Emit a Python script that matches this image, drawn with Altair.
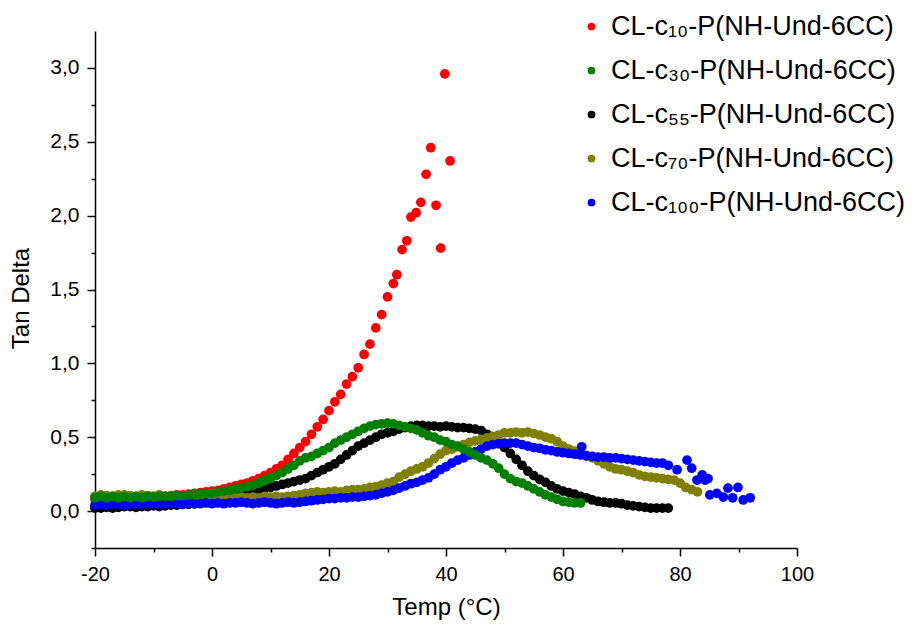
import altair as alt
import pandas as pd

# ---------------- data ----------------
SERIES = [
    "CL-c₁₀-P(NH-Und-6CC)",
    "CL-c₃₀-P(NH-Und-6CC)",
    "CL-c₅₅-P(NH-Und-6CC)",
    "CL-c₇₀-P(NH-Und-6CC)",
    "CL-c₁₀₀-P(NH-Und-6CC)",
]
COLORS = ["#ff0000", "#008000", "#000000", "#808000", "#0000ff"]

# CL-c10 : dense part (1 °C grid from -20 to 31) + sparse points above
c10_temp = [-20, -19, -18, -17, -16, -15, -14, -13, -12, -11, -10, -9, -8, -7, -6, -5, -4, -3, -2, -1,
            0, 1, 2, 3, 4, 5, 6, 7, 8, 9, 10, 11, 12, 13, 14, 15, 16, 17, 18, 19, 20, 21, 22, 23, 24,
            25, 26, 27, 28, 29, 30, 31,
            31.6, 32.5, 33.3, 34.0, 34.9, 35.7, 36.6, 37.4, 38.3, 39.1, 39.8, 40.7]
c10_tan = [0.08, 0.08, 0.08, 0.08, 0.085, 0.09, 0.09, 0.09, 0.095, 0.095, 0.10, 0.10, 0.10, 0.105, 0.11,
           0.11, 0.115, 0.12, 0.125, 0.13, 0.135, 0.14, 0.15, 0.16, 0.17, 0.18, 0.19, 0.205, 0.22, 0.24,
           0.26, 0.285, 0.31, 0.35, 0.39, 0.43, 0.47, 0.52, 0.57, 0.62, 0.68, 0.74, 0.79, 0.86, 0.91,
           0.97, 1.06, 1.13, 1.24, 1.33, 1.45, 1.54,
           1.60, 1.77, 1.83, 1.99, 2.02, 2.09, 2.28, 2.46, 2.07, 1.78, 2.96, 2.37]

# CL-c30 : -20 ... 63 °C
c30_start = -20
c30_tan = [0.09, 0.10, 0.09, 0.10, 0.09, 0.10, 0.09, 0.10, 0.09, 0.10, 0.095, 0.10, 0.10, 0.10, 0.105,
           0.105, 0.11, 0.11, 0.115, 0.12, 0.12, 0.13, 0.135, 0.14, 0.15, 0.155, 0.165, 0.175, 0.19,
           0.205, 0.22, 0.24, 0.26, 0.285, 0.31, 0.34, 0.36, 0.37, 0.39, 0.41, 0.43, 0.46, 0.48, 0.50,
           0.52, 0.54, 0.56, 0.575, 0.585, 0.59, 0.595, 0.59, 0.58, 0.57, 0.56, 0.55, 0.53, 0.51, 0.50,
           0.48, 0.47, 0.45, 0.44, 0.42, 0.40, 0.38, 0.36, 0.345, 0.32, 0.29, 0.25, 0.22, 0.20, 0.19,
           0.17, 0.15, 0.13, 0.11, 0.095, 0.08, 0.065, 0.06, 0.055, 0.055]

# CL-c55 : -20 ... 78 °C
c55_start = -20
c55_tan = [0.02, 0.02, 0.025, 0.02, 0.025, 0.03, 0.03, 0.025, 0.03, 0.03, 0.035, 0.03, 0.035, 0.04,
           0.04, 0.045, 0.045, 0.05, 0.055, 0.06, 0.065, 0.075, 0.085, 0.09, 0.10, 0.11, 0.12, 0.13,
           0.14, 0.15, 0.16, 0.17, 0.18, 0.19, 0.20, 0.21, 0.22, 0.24, 0.26, 0.28, 0.30, 0.32, 0.35,
           0.38, 0.41, 0.44, 0.46, 0.48, 0.50, 0.52, 0.53, 0.54, 0.555, 0.565, 0.575, 0.58, 0.58, 0.575,
           0.575, 0.57, 0.575, 0.57, 0.565, 0.565, 0.56, 0.555, 0.545, 0.52, 0.49, 0.46, 0.43, 0.39,
           0.35, 0.31, 0.27, 0.24, 0.215, 0.195, 0.17, 0.15, 0.135, 0.125, 0.115, 0.10, 0.09, 0.075,
           0.065, 0.06, 0.055, 0.055, 0.05, 0.04, 0.035, 0.03, 0.025, 0.02, 0.02, 0.02, 0.02]

# CL-c70 : -20 ... 83 °C
c70_start = -20
c70_tan = [0.10, 0.11, 0.105, 0.10, 0.11, 0.11, 0.105, 0.10, 0.11, 0.105, 0.10, 0.11, 0.10, 0.105,
           0.10, 0.10, 0.10, 0.095, 0.10, 0.095, 0.10, 0.095, 0.09, 0.095, 0.09, 0.095, 0.09, 0.095,
           0.09, 0.10, 0.095, 0.10, 0.095, 0.10, 0.105, 0.11, 0.12, 0.125, 0.13, 0.125, 0.13, 0.135,
           0.13, 0.14, 0.145, 0.145, 0.15, 0.16, 0.165, 0.175, 0.19, 0.20, 0.23, 0.25, 0.27, 0.285,
           0.30, 0.325, 0.355, 0.385, 0.41, 0.42, 0.435, 0.45, 0.465, 0.475, 0.485, 0.495, 0.505,
           0.515, 0.53, 0.53, 0.535, 0.53, 0.535, 0.525, 0.515, 0.50, 0.49, 0.47, 0.44, 0.42, 0.405,
           0.39, 0.37, 0.36, 0.34, 0.32, 0.30, 0.285, 0.28, 0.27, 0.26, 0.245, 0.235, 0.23, 0.225,
           0.22, 0.215, 0.21, 0.19, 0.16, 0.145, 0.13]

# CL-c100 : dense part -20 ... 78 °C + scattered points
c100_start = -20
c100_tan = [0.04, 0.045, 0.04, 0.05, 0.045, 0.04, 0.045, 0.05, 0.045, 0.05, 0.05, 0.045, 0.05, 0.055,
            0.05, 0.045, 0.055, 0.05, 0.05, 0.055, 0.05, 0.055, 0.05, 0.055, 0.055, 0.06, 0.055, 0.05,
            0.055, 0.06, 0.055, 0.05, 0.055, 0.06, 0.055, 0.06, 0.065, 0.07, 0.075, 0.08, 0.085, 0.085,
            0.09, 0.09, 0.095, 0.095, 0.10, 0.105, 0.11, 0.12, 0.13, 0.14, 0.155, 0.17, 0.185, 0.195,
            0.21, 0.225, 0.25, 0.28, 0.30, 0.325, 0.345, 0.36, 0.38, 0.40, 0.42, 0.44, 0.45, 0.455,
            0.46, 0.46, 0.46, 0.45, 0.44, 0.43, 0.425, 0.415, 0.41, 0.40, 0.395, 0.39, 0.385, 0.38,
            0.375, 0.37, 0.365, 0.365, 0.36, 0.36, 0.355, 0.35, 0.345, 0.34, 0.335, 0.33, 0.325, 0.325,
            0.31]
c100_extra_temp = [63.2, 79.5, 81.2, 82.0, 82.9, 83.8, 84.3, 84.8, 85.1, 86.3, 87.4, 88.2, 89.0, 89.9, 90.8, 92.0]
c100_extra_tan = [0.435, 0.28, 0.345, 0.29, 0.21, 0.245, 0.21, 0.22, 0.11, 0.12, 0.095, 0.155, 0.09, 0.16, 0.075, 0.09]

X_TICKS = [-20, -10, 0, 10, 20, 30, 40, 50, 60, 70, 80, 90, 100]
Y_TICKS = [-0.25, 0, 0.25, 0.5, 0.75, 1.0, 1.25, 1.5, 1.75, 2.0, 2.25, 2.5, 2.75, 3.0]

# ---------------- table ----------------
rows = []
def add(name, temps, vals):
    for t, v in zip(temps, vals):
        rows.append({"series": name, "T": t, "v": v})

def grid(start, vals):
    return [start + i for i in range(len(vals))]

# draw order (later = on top): c10, c55, c70, c100, c30
add(SERIES[0], c10_temp, c10_tan)
add(SERIES[2], grid(c55_start, c55_tan), c55_tan)
add(SERIES[3], grid(c70_start, c70_tan), c70_tan)
add(SERIES[4], grid(c100_start, c100_tan) + c100_extra_temp, c100_tan + c100_extra_tan)
add(SERIES[1], grid(c30_start, c30_tan), c30_tan)
df = pd.DataFrame(rows)
df["ord"] = range(len(df))

FONT = "Liberation Sans"
Y_MAJOR = "abs(datum.value * 2 - round(datum.value * 2)) < 1e-6"

common = dict(
    domainColor="black",
    domainWidth=1.5,
    tickColor="black",
    tickWidth=1.5,
    labelFont=FONT,
    labelColor="black",
    titleFont=FONT,
    titleFontSize=24,
    titleFontWeight="normal",
    titleColor="black",
    labelFlush=False,
    grid=False,
)

x_axis = alt.Axis(
    values=X_TICKS,
    title="Temp (°C)",
    labelExpr="datum.value % 20 === 0 ? '' + datum.value : ''",
    tickSize={"condition": {"test": "datum.value % 20 === 0", "value": 8}, "value": 4},
    labelFontSize=20,
    labelPadding=8,
    titlePadding=11,
    **common,
)
y_axis = alt.Axis(
    values=Y_TICKS,
    title="Tan Delta",
    labelExpr=Y_MAJOR + " ? replace(format(datum.value, '.1f'), '.', ',') : ''",
    tickSize={"condition": {"test": Y_MAJOR, "value": 8}, "value": 4},
    labelFontSize=21,
    labelPadding=8,
    titlePadding=16,
    titleY=267,
    **common,
)

chart = (
    alt.Chart(df)
    .mark_circle(size=95, opacity=1)
    .encode(
        x=alt.X("T:Q", scale=alt.Scale(domain=[-20, 100], nice=False, zero=False), axis=x_axis),
        y=alt.Y("v:Q", scale=alt.Scale(domain=[-0.25, 3.25], nice=False, zero=False), axis=y_axis),
        color=alt.Color(
            "series:N",
            scale=alt.Scale(domain=SERIES, range=COLORS),
            legend=alt.Legend(
                title=None,
                orient="none",
                legendX=483,
                legendY=-18,
                symbolType="circle",
                symbolSize=60,
                labelFontSize=27,
                labelFont=FONT,
                labelColor="black",
                labelLimit=400,
                rowPadding=16,
                labelOffset=6,
                padding=0,
            ),
        ),
        order=alt.Order("ord:Q"),
    )
    .properties(
        width=702,
        height=517,
        autosize=alt.AutoSizeParams(type="none"),
        padding={"left": 95, "top": 31, "right": 115, "bottom": 81},
    )
    .configure_view(stroke=None)
)

chart.save("out.html", embed_options={"renderer": "svg", "actions": False})
